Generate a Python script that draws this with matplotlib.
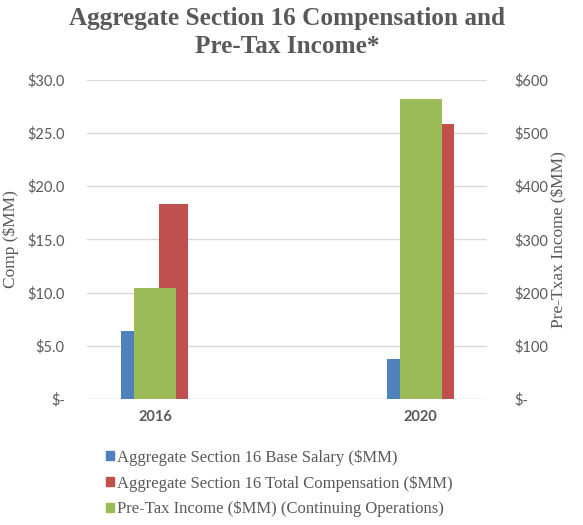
import matplotlib.pyplot as plt
import numpy as np
from matplotlib.patches import Patch

years = ['2016', '2020']
base_salary = [6.4, 3.8]       # $MM, left axis
total_comp = [18.3, 25.8]      # $MM, left axis
pretax_income = [209, 564]     # $MM, right axis

blue = '#4F81BD'
red = '#C0504D'
green = '#9BBB59'
tick_grey = '#595959'

fig = plt.figure(figsize=(5.83, 5.25), dpi=100)
ax1 = fig.add_axes([0.149, 0.24, 0.686, 0.608])
ax2 = ax1.twinx()

x = np.arange(len(years))
ax1.bar(x - 0.073, base_salary, width=0.111, color=blue, zorder=2)
ax1.bar(x + 0.070, total_comp, width=0.111, color=red, zorder=2)
ax2.bar(x, pretax_income, width=0.157, color=green, zorder=2)

ax1.set_xlim(-0.256, 1.248)
ax1.set_ylim(0, 30)
ax2.set_ylim(0, 600)
ax1.set_yticks(np.arange(0, 31, 5))
ax2.set_yticks(np.arange(0, 601, 100))
ax1.set_yticklabels(['$-'] + [f'${v:.1f}' for v in np.arange(5, 31, 5)])
ax2.set_yticklabels(['$-'] + [f'${v}' for v in range(100, 601, 100)])
ax1.set_xticks(x)
ax1.set_xticklabels(years, fontweight='bold', fontsize=10, color=tick_grey,
                    family='Lato')
ax1.yaxis.grid(True, color='#D9D9D9', linewidth=1, zorder=0)
ax1.set_axisbelow(True)

for ax in (ax1, ax2):
    for s in ax.spines.values():
        s.set_visible(False)
    ax.tick_params(length=0, labelsize=10.5, labelcolor=tick_grey)
    for lbl in ax.get_yticklabels():
        lbl.set_family('Lato')
ax1.tick_params(axis='y', pad=16)
ax2.tick_params(axis='y', pad=20)
ax1.tick_params(axis='x', pad=8)

ax1.set_ylabel('Comp ($MM)', family='Liberation Serif', fontsize=12.5,
               color=tick_grey, labelpad=6)
ax2.set_ylabel('Pre-Txax Income ($MM)', family='Liberation Serif', fontsize=12.5,
               color=tick_grey, labelpad=2)

fig.suptitle('Aggregate Section 16 Compensation and\nPre-Tax Income*',
             x=0.493, y=0.986, family='Liberation Serif', fontweight='bold',
             fontsize=18.2, color=tick_grey, linespacing=1.25)

handles = [Patch(color=blue), Patch(color=red), Patch(color=green)]
labels = ['Aggregate Section 16 Base Salary ($MM)',
          'Aggregate Section 16 Total Compensation ($MM)',
          'Pre-Tax Income ($MM) (Continuing Operations)']
fig.legend(handles, labels, loc='upper left', bbox_to_anchor=(0.168, 0.16),
           frameon=False, handlelength=0.45, handleheight=0.45,
           handletextpad=0.2, labelspacing=0.55, borderpad=0,
           prop={'family': 'Liberation Serif', 'size': 12},
           labelcolor=tick_grey)

fig.savefig('out.png', dpi=100)
